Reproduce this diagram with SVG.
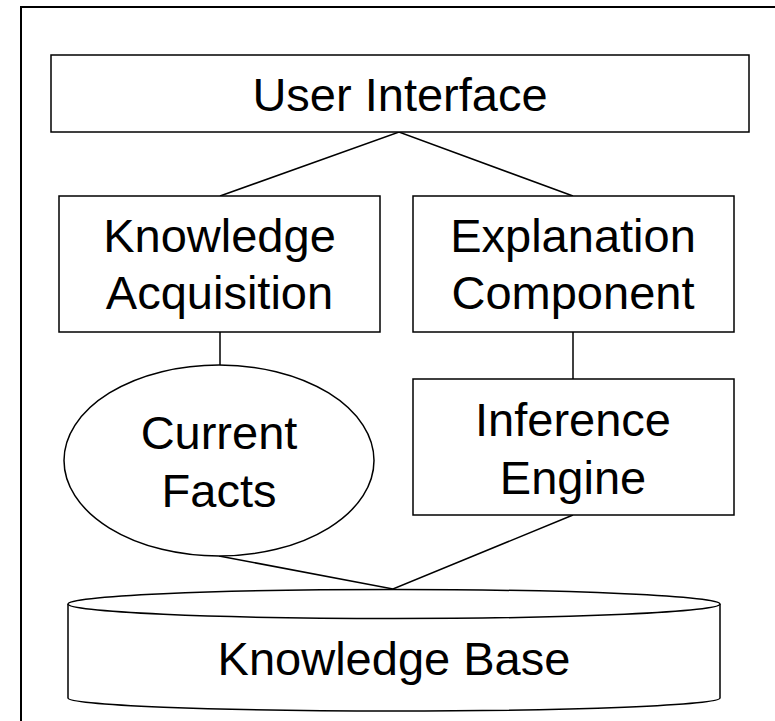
<svg xmlns="http://www.w3.org/2000/svg" width="775" height="721" viewBox="0 0 775 721">
<style>
.s{fill:#fff;stroke:#000;stroke-width:1.5}
.c{fill:none;stroke:#000;stroke-width:1.5}
text{font-family:"Liberation Sans",Arial,sans-serif;font-size:47px;fill:#000;text-anchor:middle}
</style>
<rect x="0" y="0" width="775" height="721" fill="#fff"/>
<rect id="frame" x="21" y="7" width="780" height="740" fill="none" stroke="#000" stroke-width="2"/>
<g id="connectors">
<polyline class="c" points="220,196 399,132 573,196"/>
<line class="c" x1="220" y1="332" x2="220" y2="365"/>
<line class="c" x1="573" y1="332" x2="573" y2="379"/>
<polyline class="c" points="219,556 393,589 573,515"/>
</g>
<g id="user-interface">
<rect class="s" x="51" y="55" width="698" height="77"/>
<text x="400" y="111">User Interface</text>
</g>
<g id="knowledge-acquisition">
<rect class="s" x="59" y="196" width="321" height="136"/>
<text x="219.5" y="252">Knowledge</text>
<text x="219.5" y="309">Acquisition</text>
</g>
<g id="explanation-component">
<rect class="s" x="413" y="196" width="321" height="136"/>
<text x="573" y="252">Explanation</text>
<text x="573" y="309">Component</text>
</g>
<g id="current-facts">
<ellipse class="s" cx="219" cy="460.5" rx="155" ry="95.5"/>
<text x="219" y="449">Current</text>
<text x="219" y="507">Facts</text>
</g>
<g id="inference-engine">
<rect class="s" x="413" y="379" width="321" height="136"/>
<text x="573" y="436">Inference</text>
<text x="573" y="494">Engine</text>
</g>
<g id="knowledge-base">
<path class="s" d="M68,604 L68,698 A326,13 0 0 0 720,698 L720,604"/>
<ellipse class="s" cx="394" cy="604" rx="326" ry="14.5"/>
<text x="394" y="675">Knowledge Base</text>
</g>
</svg>
